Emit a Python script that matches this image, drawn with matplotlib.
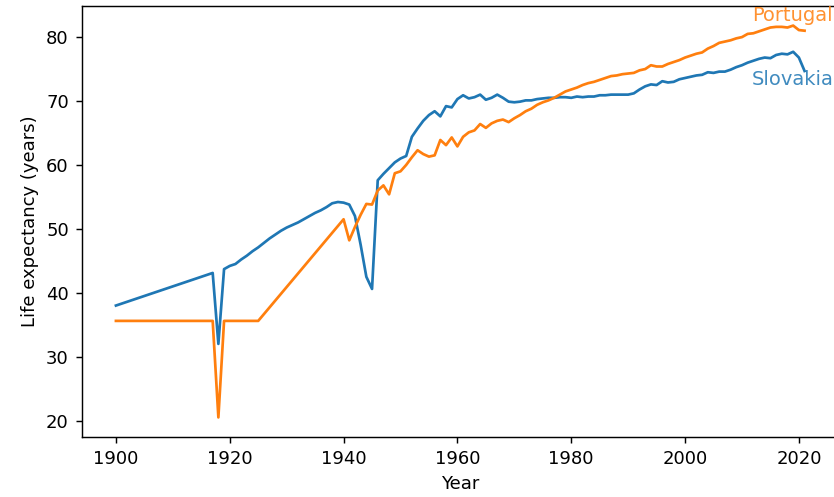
import matplotlib
matplotlib.use("Agg")
import matplotlib.pyplot as plt

# ---- data ----
slovakia_years = [1900, 1917, 1918] + list(range(1919, 2022))
slovakia_values = [
    38.0, 43.1, 32.0,
    # 1919-1929
    43.7, 44.2, 44.5, 45.2, 45.8, 46.5, 47.1, 47.8, 48.5, 49.1, 49.7,
    # 1930-1939
    50.2, 50.6, 51.0, 51.5, 52.0, 52.5, 52.9, 53.4, 54.0, 54.2,
    # 1940-1949
    54.1, 53.8, 52.0, 47.5, 42.5, 40.6, 57.6, 58.6, 59.5, 60.4,
    # 1950-1959
    61.0, 61.4, 64.4, 65.7, 66.9, 67.8, 68.4, 67.6, 69.2, 69.0,
    # 1960-1969
    70.3, 70.9, 70.4, 70.6, 71.0, 70.2, 70.5, 71.0, 70.5, 69.9,
    # 1970-1979
    69.8, 69.9, 70.1, 70.1, 70.3, 70.4, 70.5, 70.5, 70.6, 70.6,
    # 1980-1989
    70.5, 70.7, 70.6, 70.7, 70.7, 70.9, 70.9, 71.0, 71.0, 71.0,
    # 1990-1999
    71.0, 71.2, 71.8, 72.3, 72.6, 72.5, 73.1, 72.9, 73.0, 73.4,
    # 2000-2009
    73.6, 73.8, 74.0, 74.1, 74.5, 74.4, 74.6, 74.6, 74.9, 75.3,
    # 2010-2019
    75.6, 76.0, 76.3, 76.6, 76.8, 76.7, 77.2, 77.4, 77.3, 77.7,
    # 2020-2021
    76.8, 74.7,
]

portugal_years = [1900, 1917, 1918, 1919, 1925] + list(range(1940, 2022))
portugal_values = [
    35.6, 35.6, 20.5, 35.6, 35.6,
    # 1940-1949
    51.5, 48.2, 50.3, 52.2, 53.9, 53.8, 56.0, 56.8, 55.4, 58.7,
    # 1950-1959
    59.0, 60.0, 61.2, 62.3, 61.7, 61.3, 61.5, 63.9, 63.1, 64.3,
    # 1960-1969
    62.9, 64.4, 65.1, 65.4, 66.4, 65.8, 66.5, 66.9, 67.1, 66.7,
    # 1970-1979
    67.3, 67.8, 68.4, 68.8, 69.4, 69.8, 70.1, 70.5, 71.0, 71.5,
    # 1980-1989
    71.8, 72.1, 72.5, 72.8, 73.0, 73.3, 73.6, 73.9, 74.0, 74.2,
    # 1990-1999
    74.3, 74.4, 74.8, 75.0, 75.6, 75.4, 75.4, 75.8, 76.1, 76.4,
    # 2000-2009
    76.8, 77.1, 77.4, 77.6, 78.2, 78.6, 79.1, 79.3, 79.5, 79.8,
    # 2010-2019
    80.0, 80.5, 80.6, 80.9, 81.2, 81.5, 81.6, 81.6, 81.5, 81.8,
    # 2020-2021
    81.1, 81.0,
]

x_label = "Year"
y_label = "Life expectancy (years)"

# ---- figure ----
W, H, DPI = 834, 497, 130
fig = plt.figure(figsize=(W / DPI, H / DPI), dpi=DPI)
left_px, right_px, top_px, bottom_px = 81.5, 839.0, 6.0, 437.0
ax = fig.add_axes([left_px / W, 1 - bottom_px / H,
                   (right_px - left_px) / W, (bottom_px - top_px) / H])

line_sk, = ax.plot(slovakia_years, slovakia_values, color="#1f77b4")
line_pt, = ax.plot(portugal_years, portugal_values, color="#ff7f0e")

ax.text(2011.8, 82.5, "Portugal", color="#ff7f0e", alpha=0.85,
        fontsize=10.8, ha="left", va="baseline", clip_on=False)
ax.text(2011.8, 72.5, "Slovakia", color="#1f77b4", alpha=0.85,
        fontsize=10.8, ha="left", va="baseline", clip_on=False)

ax.set_xlabel(x_label)
ax.set_ylabel(y_label)
ax.set_xticks([1900, 1920, 1940, 1960, 1980, 2000, 2020])
ax.set_yticks([20, 30, 40, 50, 60, 70, 80])

fig.savefig("out.png", dpi=DPI)
